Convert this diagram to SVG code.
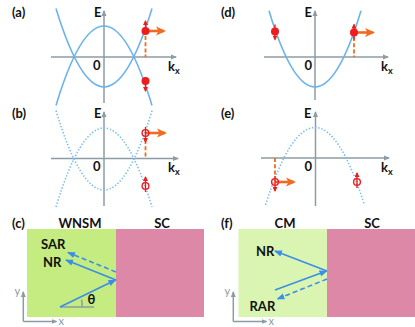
<svg xmlns="http://www.w3.org/2000/svg" width="415" height="327" viewBox="0 0 415 327">
<style>
.ax{stroke:#8d9ca4;stroke-width:1.5;fill:none}
.band{stroke:#6cb3ec;stroke-width:1.6;fill:none}
.dot{stroke:#7dbcf0;stroke-width:1.6;fill:none;stroke-dasharray:1.4 1.8}
.or{stroke:#f06a22;stroke-width:2.6;fill:none}
.ord{stroke:#f06a22;stroke-width:1.8;fill:none;stroke-dasharray:4 2.2}
.rl{stroke:#ee1c1c;stroke-width:1.4;fill:none}
.bl{stroke:#3a8ee8;stroke-width:1.6;fill:none}
.bld{stroke:#3a8ee8;stroke-width:1.6;fill:none;stroke-dasharray:5 3}
.t{font-family:Lato,"Liberation Sans",sans-serif;font-weight:bold;font-size:13px;fill:#111}
.ta{font-family:Lato,"Liberation Sans",sans-serif;font-size:11px;fill:#8d9ca4}
</style>
<defs>
<marker id="mg" markerWidth="6" markerHeight="6" refX="5" refY="3" orient="auto" markerUnits="userSpaceOnUse"><path d="M0,0.5 L6,3 L0,5.5 z" fill="#8d9ca4"/></marker>
<marker id="mb" markerWidth="8" markerHeight="8" refX="7" refY="4" orient="auto" markerUnits="userSpaceOnUse"><path d="M0,0.8 L8,4 L0,7.2 z" fill="#3a8ee8"/></marker>
<marker id="mo" markerWidth="10" markerHeight="10" refX="8" refY="5" orient="auto" markerUnits="userSpaceOnUse"><path d="M0,0.5 L10,5 L0,9.5 L2.5,5 z" fill="#f06a22"/></marker>
<marker id="mr" markerWidth="5" markerHeight="5" refX="4" refY="2.5" orient="auto" markerUnits="userSpaceOnUse"><path d="M0,0 L5,2.5 L0,5 z" fill="#ee1c1c"/></marker>
<g id="eUp"><line x1="0" y1="4" x2="0" y2="-10" class="rl" marker-end="url(#mr)"/><circle r="4" fill="#ee1c1c"/></g>
<g id="eDn"><line x1="0" y1="-4" x2="0" y2="10" class="rl" marker-end="url(#mr)"/><circle r="4" fill="#ee1c1c"/></g>
<g id="eUpS"><line x1="0" y1="7" x2="0" y2="-8" class="rl" marker-end="url(#mr)"/><circle r="4" fill="#ee1c1c"/></g>
<g id="eDnS"><line x1="0" y1="-7" x2="0" y2="8" class="rl" marker-end="url(#mr)"/><circle r="4" fill="#ee1c1c"/></g>
<g id="hDn"><line x1="0" y1="-6" x2="0" y2="9" class="rl" marker-end="url(#mr)"/><circle r="3.4" fill="none" stroke="#ee1c1c" stroke-width="1.4"/></g>
<g id="hUp"><line x1="0" y1="6" x2="0" y2="-9" class="rl" marker-end="url(#mr)"/><circle r="3.4" fill="none" stroke="#ee1c1c" stroke-width="1.4"/></g>
</defs>

<!-- panel (a) -->
<g id="panel-a">
<text class="t" x="12" y="17">(a)</text>
<line class="ax" x1="51" y1="57" x2="176" y2="57" marker-end="url(#mg)"/>
<line class="ax" x1="104" y1="103" x2="104" y2="11" marker-end="url(#mg)"/>
<path class="band" d="M56,8.6 Q104,165.4 152,8.6"/>
<path class="band" d="M56,105.4 Q104,-53.4 152,105.4"/>
<text class="t" x="94" y="17">E</text>
<text class="t" x="93" y="70">0</text>
<text class="t" x="168" y="71">k<tspan font-size="9" dy="3">x</tspan></text>
<line class="ord" x1="145.5" y1="36" x2="145.5" y2="57"/>
<line class="or" x1="145.5" y1="31" x2="164" y2="31" marker-end="url(#mo)"/>
<use href="#eUp" x="145.5" y="31"/>
<use href="#eDn" x="145.5" y="81"/>
</g>

<!-- panel (b) -->
<g id="panel-b">
<text class="t" x="12" y="118">(b)</text>
<line class="ax" x1="51" y1="158.5" x2="178" y2="158.5" marker-end="url(#mg)"/>
<line class="ax" x1="104" y1="206" x2="104" y2="112" marker-end="url(#mg)"/>
<path class="dot" d="M56,110.6 Q104,269.4 152,110.6"/>
<path class="dot" d="M56,207 Q104,49 152,207"/>
<text class="t" x="94" y="118">E</text>
<text class="t" x="93" y="171">0</text>
<text class="t" x="168" y="172">k<tspan font-size="9" dy="3">x</tspan></text>
<line class="ord" x1="145.5" y1="140" x2="145.5" y2="158.5"/>
<line class="or" x1="145.5" y1="133" x2="165" y2="133" marker-end="url(#mo)"/>
<use href="#hDn" x="145.5" y="133"/>
<use href="#hUp" x="145.5" y="186"/>
</g>

<!-- panel (d) -->
<g id="panel-d">
<text class="t" x="221" y="17">(d)</text>
<line class="ax" x1="264" y1="57" x2="388" y2="57" marker-end="url(#mg)"/>
<line class="ax" x1="315" y1="100" x2="315" y2="11" marker-end="url(#mg)"/>
<path class="band" d="M269,10.8 Q315,163.2 361,10.8"/>
<text class="t" x="304.5" y="17">E</text>
<text class="t" x="304.5" y="70">0</text>
<text class="t" x="381" y="71">k<tspan font-size="9" dy="3">x</tspan></text>
<line class="ord" x1="354" y1="37" x2="354" y2="57"/>
<line class="or" x1="354" y1="32.5" x2="373" y2="32.5" marker-end="url(#mo)"/>
<use href="#eDnS" x="275" y="31.5"/>
<use href="#eUpS" x="354" y="32.5"/>
</g>

<!-- panel (e) -->
<g id="panel-e">
<text class="t" x="221" y="118">(e)</text>
<line class="ax" x1="261" y1="158" x2="389" y2="158" marker-end="url(#mg)"/>
<line class="ax" x1="315.5" y1="206" x2="315.5" y2="112" marker-end="url(#mg)"/>
<path class="dot" d="M265.5,205 Q315,50 364.5,205"/>
<text class="t" x="304" y="118">E</text>
<text class="t" x="304.5" y="171">0</text>
<text class="t" x="381" y="172">k<tspan font-size="9" dy="3">x</tspan></text>
<line class="ord" x1="275" y1="158" x2="275" y2="176"/>
<line class="or" x1="275" y1="182" x2="294" y2="182" marker-end="url(#mo)"/>
<use href="#hDn" x="275" y="182"/>
<use href="#hUp" x="357" y="182"/>
</g>

<!-- panel (c) -->
<g id="panel-c">
<rect x="27" y="229" width="89" height="88" fill="#c4ec80"/>
<rect x="116" y="229" width="88" height="88" fill="#dc88a6"/>
<text class="t" x="12" y="228">(c)</text>
<text class="t" x="80" y="228" text-anchor="middle">WNSM</text>
<text class="t" x="162" y="228" text-anchor="middle">SC</text>
<text class="t" x="41" y="249">SAR</text>
<text class="t" x="43" y="267">NR</text>
<line class="ax" x1="60" y1="307" x2="94" y2="307"/>
<path class="ax" d="M82,307 Q82.5,303 81.5,299.5" stroke-width="1.2"/>
<text class="t" x="87.5" y="304" font-size="11">θ</text>
<line class="ax" x1="23.3" y1="321.5" x2="23.3" y2="292" marker-end="url(#mg)" stroke-width="1.2"/>
<line class="ax" x1="23.3" y1="321.5" x2="56.5" y2="321.5" marker-end="url(#mg)" stroke-width="1.2"/>
<text class="ta" x="14.5" y="295">y</text>
<text class="ta" x="58.5" y="325">x</text>
</g>

<!-- panel (f) -->
<g id="panel-f">
<rect x="238.5" y="229" width="88.5" height="88" fill="#d9f5b1"/>
<rect x="327" y="229" width="88" height="88" fill="#dc88a6"/>
<text class="t" x="221" y="228">(f)</text>
<text class="t" x="285" y="228" text-anchor="middle">CM</text>
<text class="t" x="372" y="228" text-anchor="middle">SC</text>
<text class="t" x="256" y="256">NR</text>
<text class="t" x="249.5" y="311">RAR</text>
<line class="ax" x1="233.3" y1="321.5" x2="233.3" y2="292" marker-end="url(#mg)" stroke-width="1.2"/>
<line class="ax" x1="233.3" y1="321.5" x2="266.5" y2="321.5" marker-end="url(#mg)" stroke-width="1.2"/>
<text class="ta" x="224.5" y="295">y</text>
<text class="ta" x="268.5" y="325">x</text>
</g>

<!-- connectors (rays) -->
<g id="connectors">
<line class="bl" x1="60" y1="307" x2="115.5" y2="280" marker-end="url(#mb)"/>
<line class="bl" x1="116" y1="280" x2="66" y2="260" marker-end="url(#mb)"/>
<line class="bld" x1="116" y1="272" x2="68" y2="252.5" marker-end="url(#mb)"/>
<line class="bl" x1="275" y1="290" x2="326.5" y2="271" marker-end="url(#mb)"/>
<line class="bl" x1="327" y1="271" x2="275" y2="251" marker-end="url(#mb)"/>
<line class="bld" x1="327" y1="279" x2="277.5" y2="299" marker-end="url(#mb)"/>
</g>
</svg>
